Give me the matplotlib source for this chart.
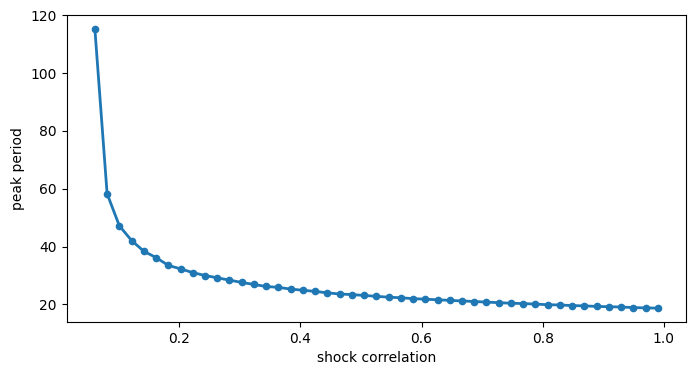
import numpy as np
import matplotlib
matplotlib.use('Agg')
import matplotlib.pyplot as plt

# shock correlation values (first few dropped)
rho = np.linspace(0, 0.99, 50)[3:]
peak = [115.3, 58.3, 47.2, 42.1, 38.4, 36.2, 33.5, 32.3, 31.0, 30.0, 29.2, 28.4,
        27.6, 26.9, 26.2, 25.9, 25.3, 24.9, 24.5, 24.0, 23.6, 23.4, 23.1, 22.8,
        22.5, 22.3, 22.0, 21.8, 21.6, 21.4,
        21.2, 21.0, 20.8, 20.6, 20.4, 20.3, 20.1, 19.9, 19.8, 19.6, 19.5, 19.3,
        19.2, 19.1, 18.9, 18.8, 18.7]

fig, ax = plt.subplots(figsize=(6.95, 3.75))
fig.subplots_adjust(left=0.096, right=0.987, top=0.96, bottom=0.141)
ax.plot(rho, peak, 'o-', lw=2, ms=4.5)
ax.set_xlabel('shock correlation')
ax.set_ylabel('peak period')
fig.savefig('out.png', dpi=100)
